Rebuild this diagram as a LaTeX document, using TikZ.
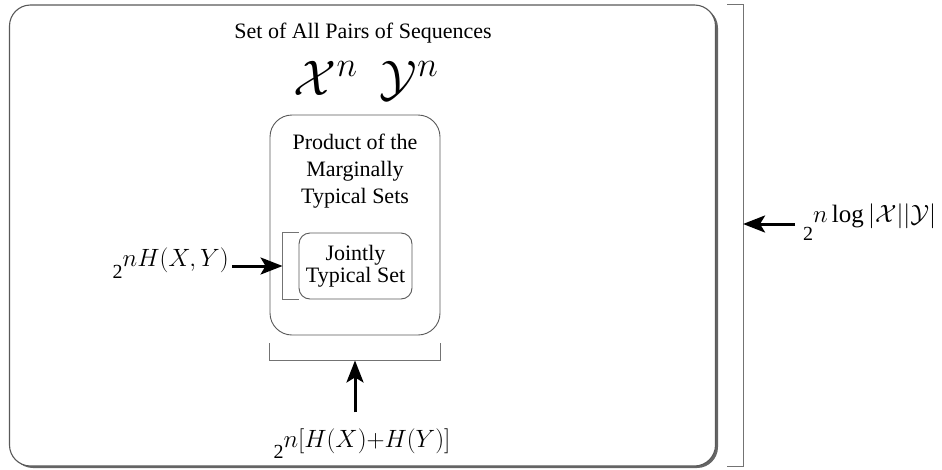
\RequirePackage{fix-cm}
\documentclass[tikz,border=0pt]{standalone}
\usepackage{fontspec}
\setmainfont{Liberation Serif}
\usetikzlibrary{arrows.meta,calc,shadows}
% power of two with a large raised exponent
\newcommand{\twopow}[2]{2\raisebox{#1}{\fontsize{25}{30}\selectfont$#2$}}
\begin{document}
\begin{tikzpicture}[x=1pt,y=-1pt,
  setbox/.style={draw=black!65,line width=0.9pt,rounded corners=#1,inner sep=0pt},
  brk/.style={draw=black!55,line width=0.8pt},
  bigarrow/.style={line width=3pt,-{Stealth[length=22pt,width=17pt,inset=5pt]}},
  lbl/.style={font=\fontsize{22}{27}\selectfont},
  powlbl/.style={font=\fontsize{20}{24}\selectfont,inner sep=0pt}]
\useasboundingbox (0,0) rectangle (942,469);
% outer set and the two inner sets
\node[setbox=21pt,minimum width=706pt,minimum height=461pt,fill=white,line width=1.1pt,
  drop shadow={shadow xshift=2.5pt,shadow yshift=-2pt,opacity=.75,fill=black!80}] (all) at (362.5,235.5) {};
\node[setbox=22pt,minimum width=170pt,minimum height=220pt] (marg) at (355,225) {};
\node[setbox=11pt,minimum width=113pt,minimum height=66pt,align=center,font=\fontsize{22}{22}\selectfont] (joint) at (355.5,266) {Jointly\\Typical Set};
\node[lbl,align=center] (margtxt) at (355,171) {Product of the\\Marginally\\Typical Sets};
\node[lbl,anchor=base] (title) at (363,38) {Set of All Pairs of Sequences};
\node[font=\fontsize{50}{60}\selectfont,anchor=base,inner sep=0pt] (xy) at (366,95) {$\mathcal{X}^n\mkern8mu\mathcal{Y}^n$};
% brackets
\coordinate (lb) at ($(joint.west)+(-16,0)$);
\draw[brk] (joint.north west) -- (joint.north west-|lb) -- (joint.south west-|lb) -- (joint.south west);
\coordinate (bb) at ($(marg.south)+(0,25)$);
\draw[brk] ($(marg.south west)+(0,8)$) -- (marg.south west|-bb) -- (marg.south east|-bb) -- ($(marg.south east)+(0,8)$);
\coordinate (rb) at ($(all.east)+(27,0)$);
\draw[brk] ($(all.north east)+(11,0)$) -- (all.north east-|rb) -- (all.south east-|rb) -- ($(all.south east)+(11,0)$);
% labels
\node[powlbl,anchor=base east] (jlab) at (229,278) {\twopow{12pt}{nH(X,Y)}};
\node[powlbl,anchor=base] (mlab) at (362,458) {\twopow{11pt}{n[H(X){+}H(Y)]}};
\node[powlbl,anchor=base west] (alab) at (803,240) {\twopow{18pt}{n\log|\mathcal{X}||\mathcal{Y}|}};
% arrows
\draw[bigarrow] ($(jlab.east|-lb)+(3,0)$) -- (lb);
\draw[bigarrow] ($(marg.south)+(0,77)$) -- (marg.south|-bb);
\draw[bigarrow] ($(alab.base west)+(-8,-16)$) coordinate (as) -- (as-|rb);
\end{tikzpicture}
\end{document}
